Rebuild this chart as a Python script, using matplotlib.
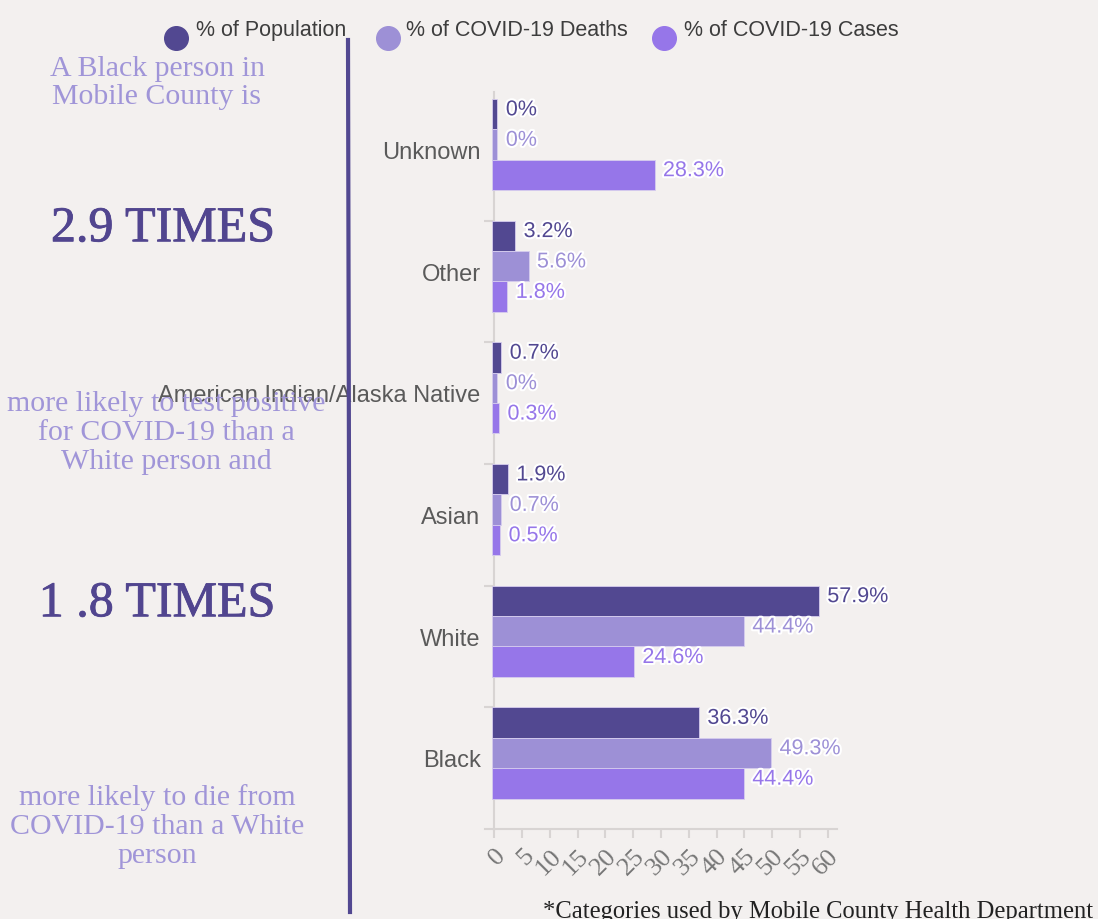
import numpy as np
import matplotlib
matplotlib.use("Agg")
import matplotlib.pyplot as plt
import matplotlib.patheffects as pe
import matplotlib.transforms as mtransforms
from matplotlib.lines import Line2D

categories = ["Unknown", "Other", "American Indian/Alaska Native", "Asian", "White", "Black"]
population = [0, 3.2, 0.7, 1.9, 57.9, 36.3]
deaths = [0, 5.6, 0, 0.7, 44.4, 49.3]
cases = [28.3, 1.8, 0.3, 0.5, 24.6, 44.4]
series_names = ["% of Population", "% of COVID-19 Deaths", "% of COVID-19 Cases"]
x_ticks = list(range(0, 61, 5))

bg = "#f3f0ef"
c_pop = "#524891"
c_death = "#9d90d6"
c_case = "#9676e9"
c_light = "#a095d8"
serif = "Liberation Serif"
sans = "Liberation Sans"

W, H = 1098, 919
fig = plt.figure(figsize=(W / 100, H / 100), dpi=100)
fig.patch.set_facecolor(bg)

# axes placed in pixel coords
left, right, top, bottom = 485, 837, 92, 829
ax = fig.add_axes([left / W, 1 - bottom / H, (right - left) / W, (bottom - top) / H])
ax.set_facecolor(bg)
ax.set_xlim(-1.7, 61.7)
ax.set_ylim(5.625, -0.431)

y = np.arange(len(categories))
h = 0.25
stub = 0.45  # bars start a touch left of zero and always show a small stub
for vals, col, off in [(population, c_pop, -h), (deaths, c_death, 0), (cases, c_case, h)]:
    vals = np.array(vals)
    ax.barh(y + off, vals + 1.0, left=-stub, height=h, color=col,
            edgecolor="#d6cdee", linewidth=0.6, zorder=3)
    for yi, v in zip(y + off, vals):
        ax.annotate(f"{v:g}%", (v + 0.55, yi), xytext=(6, 3), textcoords="offset points",
                    ha="left", va="center", fontsize=15.5, family=sans, color=col, zorder=5,
                    path_effects=[pe.withStroke(linewidth=3, foreground="white")])

# axis styling
for s in ["top", "right"]:
    ax.spines[s].set_visible(False)
ax.spines["left"].set_position(("data", 0))
ax.spines["left"].set_color("#d8d4d3")
ax.spines["left"].set_linewidth(1.5)
ax.spines["bottom"].set_color("#d8d4d3")
ax.spines["bottom"].set_linewidth(1.5)

ax.set_yticks(y[1:] - 1.5 * h)
ax.set_yticklabels([])
ax.set_yticks(y, minor=True)
ax.set_yticklabels(categories, minor=True, fontsize=17, family=sans, color="#5a5a5a")
ax.tick_params(axis="y", which="major", direction="out", length=7, color="#d8d4d3", width=1.5)
ax.tick_params(axis="y", which="minor", length=0, pad=10)
shift = mtransforms.ScaledTranslation(0, -6 / 100, fig.dpi_scale_trans)
for lab in ax.get_yticklabels(minor=True):
    lab.set_transform(lab.get_transform() + shift)

ax.set_xticks(x_ticks)
ax.set_xticklabels([str(t) for t in x_ticks], rotation=45, ha="right", va="top",
                   rotation_mode="anchor", fontsize=19, family=serif, color="#777777")
ax.tick_params(axis="x", direction="out", length=6.5, color="#d8d4d3", width=1.5, pad=5)

# legend along the top
for xc, xt, col, name in [(176, 196, c_pop, series_names[0]),
                          (388, 406, c_death, series_names[1]),
                          (664, 684, c_case, series_names[2])]:
    fig.add_artist(Line2D([xc / W], [1 - 37.5 / H], marker="o", markersize=17,
                          color=col, linestyle="none"))
    fig.text(xt / W, 1 - 30.5 / H, name, ha="left", va="center", fontsize=15.5,
             family=sans, color="#3d3d3d")

# divider line
fig.add_artist(Line2D([348 / W, 350 / W], [1 - 40 / H, 1 - 912 / H], color=c_pop, linewidth=3))

# left-hand story text
heavy = [pe.withStroke(linewidth=0.6, foreground="#51458f")]
fig.text(157 / W, 1 - 83 / H, "A Black person in\nMobile County is", ha="center", va="center",
         fontsize=21.5, family=serif, color=c_light, linespacing=1.15)
fig.text(163 / W, 1 - 229 / H, "2.9 TIMES", ha="center", va="center",
         fontsize=36, family=serif, color="#51458f", path_effects=heavy)
fig.text(166 / W, 1 - 433 / H, "more likely to test positive\nfor COVID-19 than a\nWhite person and",
         ha="center", va="center", fontsize=21.5, family=serif, color=c_light, linespacing=1.15)
fig.text(157 / W, 1 - 604 / H, "1 .8 TIMES", ha="center", va="center",
         fontsize=36, family=serif, color="#51458f", path_effects=heavy)
fig.text(157 / W, 1 - 827 / H, "more likely to die from\nCOVID-19 than a White\nperson",
         ha="center", va="center", fontsize=21.5, family=serif, color=c_light, linespacing=1.15)

fig.text(543 / W, 1 - 912 / H, "*Categories used by Mobile County Health Department",
         ha="left", va="center", fontsize=17.7, family=serif, color="#222222")

fig.savefig("out.png", dpi=100, facecolor=bg)
